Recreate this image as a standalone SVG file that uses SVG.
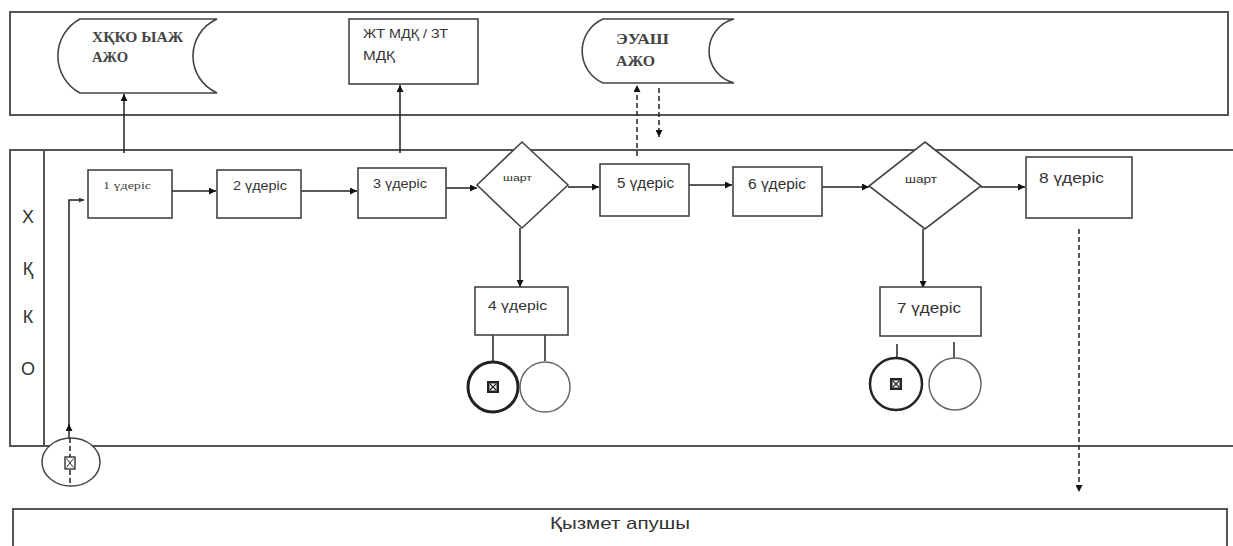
<svg xmlns="http://www.w3.org/2000/svg" width="1233" height="546" viewBox="0 0 1233 546">
<defs>
<marker id="ah" viewBox="0 0 10 10" refX="10" refY="5" markerWidth="7" markerHeight="7" markerUnits="userSpaceOnUse" orient="auto">
<path d="M0,0 L10,5 L0,10 Z" fill="#111"/>
</marker>
<marker id="ahs" viewBox="0 0 10 10" refX="10" refY="5" markerWidth="5" markerHeight="5" markerUnits="userSpaceOnUse" orient="auto">
<path d="M0,0 L10,5 L0,10 Z" fill="#333"/>
</marker>
<g id="xbox">
<rect x="-5.5" y="-5.5" width="11" height="11" fill="#222" stroke="#222" stroke-width="1"/>
<rect x="-3.5" y="-3.5" width="7" height="7" fill="#fff"/>
<path d="M-3,-3 L3,3 M3,-3 L-3,3" stroke="#222" stroke-width="1.2"/>
</g>
<g id="xbox2">
<rect x="-5" y="-6" width="10" height="12" fill="#fff" stroke="#333" stroke-width="1.4"/>
<path d="M-3.5,-4.5 L3.5,4.5 M3.5,-4.5 L-3.5,4.5" stroke="#333" stroke-width="1"/>
</g>
</defs>
<style>
.pool{fill:none;stroke:#555;stroke-width:2}
.box{fill:#fff;stroke:#444;stroke-width:1.6}
.ln{fill:none;stroke:#222;stroke-width:1.5}
.dash{fill:none;stroke:#222;stroke-width:1.5;stroke-dasharray:5,3}
.sans{font-family:"Liberation Sans",Arial,sans-serif;fill:#333}
.serif{font-family:"Liberation Serif","Times New Roman",serif;fill:#444;font-weight:bold}
.lane{font-family:"Liberation Sans",Arial,sans-serif;fill:#333;font-size:18px;text-anchor:middle}
</style>
<rect width="1233" height="546" fill="#fff"/>

<g id="pools">
<rect class="pool" x="10" y="12" width="1218" height="103"/>
<path class="pool" d="M1240,150 H10 V446 H1240"/>
<line class="pool" x1="44" y1="150" x2="44" y2="446"/>
<path class="pool" d="M13,560 V509 H1227 V560"/>
<text class="lane" x="28" y="223">Х</text>
<text class="lane" x="28" y="275">Қ</text>
<text class="lane" x="28" y="323">К</text>
<text class="lane" x="28" y="375">О</text>
<text class="sans" x="550" y="529" font-size="17" textLength="140" lengthAdjust="spacingAndGlyphs">Қызмет апушы</text>
</g>

<g id="connectors">
<line class="ln" x1="124" y1="153" x2="124" y2="94" marker-end="url(#ah)"/>
<line class="ln" x1="400" y1="153" x2="400" y2="85" marker-end="url(#ah)"/>
<line class="dash" x1="637" y1="156" x2="637" y2="85" marker-end="url(#ah)"/>
<line class="dash" x1="659" y1="88" x2="659" y2="137" marker-end="url(#ah)"/>
<line class="ln" x1="172" y1="191" x2="216" y2="191" marker-end="url(#ah)"/>
<line class="ln" x1="301" y1="191" x2="357" y2="191" marker-end="url(#ah)"/>
<line class="ln" x1="446" y1="188" x2="477" y2="188" marker-end="url(#ah)"/>
<line class="ln" x1="568" y1="187" x2="599" y2="187" marker-end="url(#ah)"/>
<line class="ln" x1="689" y1="185" x2="732" y2="185" marker-end="url(#ah)"/>
<line class="ln" x1="822" y1="187" x2="869" y2="187" marker-end="url(#ah)"/>
<line class="ln" x1="981" y1="187" x2="1025" y2="187" marker-end="url(#ah)"/>
<line class="ln" x1="520" y1="228" x2="520" y2="287" marker-end="url(#ah)" stroke-width="2"/>
<line class="ln" x1="923" y1="229" x2="923" y2="288" marker-end="url(#ah)" stroke-width="2"/>
<line class="dash" x1="1079" y1="229" x2="1079" y2="492" marker-end="url(#ah)"/>
<line class="ln" x1="493" y1="335" x2="493" y2="361" stroke="#444" stroke-width="2"/>
<line class="ln" x1="545" y1="335" x2="545" y2="361" stroke="#555" stroke-width="2"/>
<line class="ln" x1="897" y1="344" x2="897" y2="358"/>
<line class="ln" x1="954" y1="342" x2="954" y2="358"/>
<line class="ln" x1="69" y1="438" x2="69" y2="424" marker-end="url(#ah)"/>
<polyline class="ln" points="69,425 69,200 84,200" stroke="#444" marker-end="url(#ahs)"/>
</g>

<g id="n-hkko">
<path class="box" d="M80,19 H217 A40.5,40.5 0 0 0 217,93 H80 A42,42 0 0 1 80,19 Z"/>
<text class="serif" x="92" y="42" font-size="14" textLength="91" lengthAdjust="spacingAndGlyphs">ХҚКО ЫАЖ</text>
<text class="serif" x="92" y="62" font-size="14" textLength="36" lengthAdjust="spacingAndGlyphs">АЖО</text>
</g>
<g id="n-jtmdk">
<rect class="box" x="349" y="19" width="129" height="65"/>
<text class="sans" x="363" y="38" font-size="12" textLength="85" lengthAdjust="spacingAndGlyphs">ЖТ МДҚ / ЗТ</text>
<text class="sans" x="363" y="60" font-size="12" textLength="32" lengthAdjust="spacingAndGlyphs">МДҚ</text>
</g>
<g id="n-euash">
<path class="box" d="M603,19 H734 A33,33 0 0 0 734,83 H603 A35,35 0 0 1 603,19 Z"/>
<text class="serif" x="616" y="44" font-size="14" textLength="53" lengthAdjust="spacingAndGlyphs">ЭУАШ</text>
<text class="serif" x="616" y="66" font-size="14" textLength="39" lengthAdjust="spacingAndGlyphs">АЖО</text>
</g>

<g id="n1">
<rect class="box" x="88" y="170" width="84" height="48"/>
<text x="103" y="189" font-size="10" font-family="Liberation Serif,serif" fill="#444" textLength="48" lengthAdjust="spacingAndGlyphs">1 үдеріс</text>
</g>
<g id="n2">
<rect class="box" x="217" y="170" width="84" height="48"/>
<text class="sans" x="233" y="190" font-size="12" textLength="54" lengthAdjust="spacingAndGlyphs">2 үдеріс</text>
</g>
<g id="n3">
<rect class="box" x="358" y="168" width="88" height="50"/>
<text class="sans" x="373" y="188" font-size="12" textLength="54" lengthAdjust="spacingAndGlyphs">3 үдеріс</text>
</g>
<g id="d1">
<polygon class="box" points="522,142 568,185 522,228 477,185"/>
<text class="sans" x="503" y="181" font-size="9" textLength="29" lengthAdjust="spacingAndGlyphs">шарт</text>
</g>
<g id="n4">
<rect class="box" x="475" y="287" width="93" height="48"/>
<text class="sans" x="488" y="310" font-size="13" textLength="59" lengthAdjust="spacingAndGlyphs">4 үдеріс</text>
<circle cx="493" cy="387" r="25" fill="#fff" stroke="#222" stroke-width="3"/>
<circle cx="545" cy="387" r="25" fill="#fff" stroke="#666" stroke-width="1.5"/>
<use href="#xbox" x="493" y="387"/>
</g>
<g id="n5">
<rect class="box" x="600" y="164" width="89" height="52"/>
<text class="sans" x="617" y="188" font-size="14" textLength="57" lengthAdjust="spacingAndGlyphs">5 үдеріс</text>
</g>
<g id="n6">
<rect class="box" x="733" y="167" width="89" height="49"/>
<text class="sans" x="748" y="189" font-size="14" textLength="58" lengthAdjust="spacingAndGlyphs">6 үдеріс</text>
</g>
<g id="d2">
<polygon class="box" points="925,142 981,186 925,229 869,186"/>
<text class="sans" x="905" y="183" font-size="10" textLength="32" lengthAdjust="spacingAndGlyphs">шарт</text>
</g>
<g id="n7">
<rect class="box" x="880" y="287" width="101" height="49"/>
<text class="sans" x="897" y="313" font-size="14" textLength="64" lengthAdjust="spacingAndGlyphs">7 үдеріс</text>
<circle cx="896" cy="384" r="26" fill="#fff" stroke="#222" stroke-width="2.5"/>
<circle cx="955" cy="384" r="26" fill="#fff" stroke="#666" stroke-width="1.5"/>
<use href="#xbox" x="896" y="384"/>
</g>
<g id="n8">
<rect class="box" x="1026" y="157" width="106" height="61"/>
<text class="sans" x="1039" y="183" font-size="15" textLength="65" lengthAdjust="spacingAndGlyphs">8 үдеріс</text>
</g>
<g id="start">
<ellipse cx="71" cy="462" rx="29" ry="24" fill="#fff" stroke="#444" stroke-width="1.5"/>
<line class="dash" x1="70" y1="438" x2="70" y2="486"/>
<use href="#xbox2" x="70" y="463"/>
</g>
</svg>
